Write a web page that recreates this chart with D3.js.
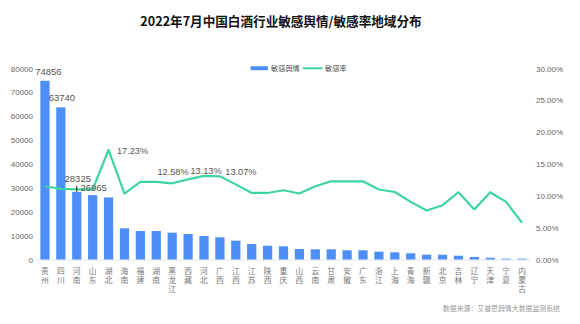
<!DOCTYPE html>
<html><head><meta charset="utf-8">
<script src="https://cdn.jsdelivr.net/npm/d3@7"></script>
<style>
body{margin:0;background:#fff;}
svg{display:block;font-family:"Liberation Sans",Arial,"Noto Sans CJK SC",sans-serif;}
.cjk{font-family:"Noto Sans CJK SC",sans-serif;}
.vert{writing-mode:vertical-rl;text-orientation:upright;}
</style></head>
<body><svg id="c" width="580" height="324"></svg>
<script>
const categories = ["贵州","四川","河南","山东","湖北","海南","福建","湖南","黑龙江","西藏","河北","广西","江西","江苏","陕西","重庆","山西","云南","甘肃","安徽","广东","浙江","上海","青海","新疆","北京","吉林","辽宁","天津","宁夏","内蒙古"];
const volume = [74856,63740,28325,26965,26000,13070,11940,11940,11230,10680,9840,9300,7870,6490,5780,5530,4400,4270,4270,3850,3850,3270,3020,2600,2010,2010,1590,1050,750,330,330];
const rate = [11.5,11.08,11.0,11.0,17.23,10.36,12.18,12.18,11.97,12.58,13.13,13.07,11.8,10.45,10.45,10.88,10.36,11.5,12.28,12.28,12.28,11.0,10.6,9.05,7.7,8.53,10.56,7.86,10.56,9.05,5.76];
const leftTicks = [0,10000,20000,30000,40000,50000,60000,70000,80000];
const rightTicks = [0,5,10,15,20,25,30];
const volumeLabelCats = ["贵州","四川","河南","山东"];
const rateLabelCats = ["湖北","西藏","河北","广西"];
const title = "2022年7月中国白酒行业敏感舆情/敏感率地域分布";
const legendNames = ["敏感舆情","敏感率"];
const source = "数据来源：艾普思舆情大数据监测系统";

const svg = d3.select("#c");
const barColor = "#4d8ff6", lineColor = "#3dd59d";
const plotTop = 68.5, plotBottom = 259.5, plotLeft = 37, plotRight = 530;

const x = d3.scaleBand().domain(categories).range([plotLeft, plotRight]).paddingInner(0.42).paddingOuter(0.21);
const yL = d3.scaleLinear().domain([0, 80000]).range([plotBottom, plotTop]);
const yR = d3.scaleLinear().domain([0, 30]).range([plotBottom, plotTop]);

// title
svg.append("text").attr("class","cjk").attr("x", 281).attr("y", 26)
  .attr("text-anchor","middle").attr("font-size",12.6).attr("font-weight","bold").attr("fill","#111").text(title);

// legend
const lg = svg.append("g");
lg.append("rect").attr("x",250.5).attr("y",66.3).attr("width",17.5).attr("height",4).attr("rx",1).attr("fill",barColor);
lg.append("text").attr("class","cjk").attr("x",271).attr("y",71).attr("font-size",7.2).attr("fill","#555").text(legendNames[0]);
lg.append("line").attr("x1",303).attr("x2",322.5).attr("y1",68.3).attr("y2",68.3).attr("stroke",lineColor).attr("stroke-width",2);
lg.append("text").attr("class","cjk").attr("x",325).attr("y",71).attr("font-size",7.2).attr("fill","#555").text(legendNames[1]);

// axes
const axL = svg.append("g").attr("transform",`translate(${plotLeft-4},0)`)
  .call(d3.axisLeft(yL).tickValues(leftTicks).tickSize(0).tickPadding(0).tickFormat(d3.format("d")));
axL.select(".domain").remove();
axL.selectAll("text").attr("font-size",8).attr("fill","#666").attr("font-family","Liberation Sans, Arial, sans-serif");

const axR = svg.append("g").attr("transform",`translate(${plotRight+6},0)`)
  .call(d3.axisRight(yR).tickValues(rightTicks).tickSize(0).tickPadding(0).tickFormat(d => d.toFixed(2)+"%"));
axR.select(".domain").remove();
axR.selectAll("text").attr("font-size",8).attr("fill","#666").attr("font-family","Liberation Sans, Arial, sans-serif");

// baseline
svg.append("line").attr("x1",plotLeft).attr("x2",plotRight).attr("y1",plotBottom+0.5).attr("y2",plotBottom+0.5).attr("stroke","#e3e6ee").attr("stroke-width",1.2);

// bars
svg.append("g").selectAll("rect").data(categories).join("rect")
  .attr("x", d => x(d)).attr("width", x.bandwidth())
  .attr("y", (d,i) => yL(volume[i])).attr("height", (d,i) => plotBottom - yL(volume[i]))
  .attr("fill", barColor);

// x labels (vertical text)
svg.append("g").selectAll("text").data(categories).join("text")
  .attr("class","cjk vert").attr("font-size",7.8).attr("fill","#777").attr("letter-spacing",0.8)
  .attr("x", d => x(d)+x.bandwidth()/2).attr("y", 267.5).text(d => d);

// line
const line = d3.line().x((d,i) => x(categories[i]) + x.bandwidth()/2).y(d => yR(d));
svg.append("path").datum(rate).attr("d", line).attr("fill","none").attr("stroke",lineColor).attr("stroke-width",2.2).attr("stroke-linejoin","round");

// small marker above 河南
const hn = categories.indexOf("河南");
svg.append("line").attr("x1", x(categories[hn])+x.bandwidth()/2).attr("x2", x(categories[hn])+x.bandwidth()/2)
  .attr("y1", yL(volume[hn])-6).attr("y2", yL(volume[hn])).attr("stroke","#111").attr("stroke-width",1);

// volume labels
const vOff = {"贵州":[3.5,-6],"四川":[1,-6],"河南":[1,-10],"山东":[1,-4.5]};
volumeLabelCats.forEach(c => {
  const i = categories.indexOf(c);
  svg.append("text").attr("x", x(c)+x.bandwidth()/2 + vOff[c][0]).attr("y", yL(volume[i]) + vOff[c][1])
    .attr("text-anchor","middle").attr("font-size",9.5).attr("fill","#555").text(volume[i]);
});

// rate labels
const rOff = {"湖北":[24,4],"西藏":[-15,-4],"河北":[2,-2.2],"广西":[21,-1]};
rateLabelCats.forEach(c => {
  const i = categories.indexOf(c);
  svg.append("text").attr("x", x(c)+x.bandwidth()/2 + rOff[c][0]).attr("y", yR(rate[i]) + rOff[c][1])
    .attr("text-anchor","middle").attr("font-size",9.2).attr("fill","#555").text(rate[i].toFixed(2)+"%");
});

// source
svg.append("text").attr("class","cjk").attr("x",560).attr("y",311).attr("text-anchor","end")
  .attr("font-size",6.9).attr("fill","#999").text(source);
</script>
</body></html>
